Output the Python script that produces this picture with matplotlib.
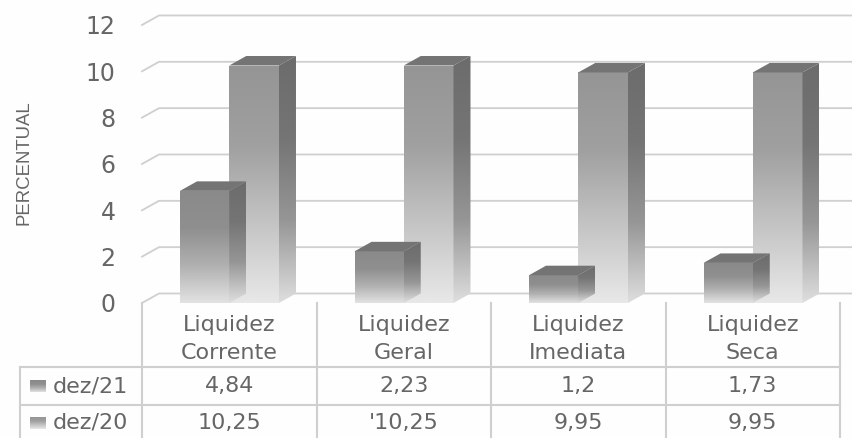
import numpy as np
import matplotlib
matplotlib.use("Agg")
import matplotlib.pyplot as plt
from matplotlib.patches import Polygon
from matplotlib.colors import LinearSegmentedColormap
from matplotlib.transforms import blended_transform_factory

categories = ["Liquidez\nCorrente", "Liquidez\nGeral", "Liquidez\nImediata", "Liquidez\nSeca"]
series_names = ["dez/21", "dez/20"]
dez21 = [4.84, 2.23, 1.2, 1.73]
dez20 = [10.25, 10.25, 9.95, 9.95]
dez21_labels = ["4,84", "2,23", "1,2", "1,73"]
dez20_labels = ["10,25", "'10,25", "9,95", "9,95"]
yticks = [0, 2, 4, 6, 8, 10, 12]

W, H = 852, 438
X0, CAT_W = 142, 174.5
Y0, UNIT = 303, 23.17
TXT = "#666666"
GRID = "#cfcfcf"

fig = plt.figure(figsize=(W / 100, H / 100), dpi=100, facecolor="#fefefe")
ax = fig.add_axes([X0 / W, 0, (W - X0) / W, 1])
ax.set_facecolor("none")
xlim = (0, (W - X0) / CAT_W)
ylim = ((Y0 - H) / UNIT, Y0 / UNIT)
for s in ax.spines.values():
    s.set_visible(False)

DX, DY = 17 / CAT_W, 9.5 / UNIT          # 3-D depth of the plot floor
grad_front = LinearSegmentedColormap.from_list("f", ["#e2e2e2", "#b0b0b0", "#8f8f8f", "#8a8a8a"])
grad_back = LinearSegmentedColormap.from_list("b", ["#e8e8e8", "#c4c4c4", "#a0a0a0", "#959595"])
grad_side = LinearSegmentedColormap.from_list("s", ["#dedede", "#969696", "#757575", "#6c6c6c"])
ramp = np.linspace(0, 1, 128).reshape(-1, 1)


def gradient(x0, x1, top, bottom, cmap, clip, z):
    im = ax.imshow(ramp, cmap=cmap, origin="lower", aspect="auto",
                   extent=(x0, x1, bottom, top), vmin=0, vmax=1, zorder=z,
                   interpolation="bilinear")
    im.set_clip_path(clip)


def bar3d(x, w, v, cmap, z):
    b = ax.bar(x, v, w, align="edge", color="none", linewidth=0, zorder=z)[0]
    gradient(x, x + w, v, 0, cmap, b, z)
    side = Polygon([(x + w, 0), (x + w + DX, DY), (x + w + DX, v + DY), (x + w, v)],
                   closed=True, fc="none", ec="none", zorder=z)
    ax.add_patch(side)
    gradient(x + w, x + w + DX, v + DY, 0, grad_side, side, z)
    ax.add_patch(Polygon([(x, v), (x + DX, v + DY), (x + w + DX, v + DY), (x + w, v)],
                         closed=True, fc="#747474", ec="none", zorder=z))


# back wall grid and floor diagonals
for t in yticks:
    ax.plot([0, DX, xlim[1]], [t, t + DY, t + DY], color=GRID, lw=1.3, zorder=1, clip_on=False)

BAR_W = 0.285
for i in range(4):
    bar3d(i + 0.500, BAR_W, dez20[i], grad_back, 3)
    bar3d(i + 0.218, BAR_W - 0.003, dez21[i], grad_front, 4)

ax.set_xlim(*xlim)
ax.set_ylim(*ylim)
ax.set_xticks([])
ax.set_yticks(yticks)
ax.tick_params(axis="y", length=0, pad=19, labelsize=17, labelcolor=TXT)

# data table below the plot
tb = blended_transform_factory(ax.transData, fig.transFigure)
fy = lambda py: 1 - py / H
fx = lambda px: (px - X0) / CAT_W
ROW_TOP, ROW_MID, ROW_END = 367, 405, H
TBL_LEFT = 20
for py in (ROW_TOP, ROW_MID):
    ax.plot([fx(TBL_LEFT), 4], [fy(py)] * 2, transform=tb, color=GRID, lw=1.5, clip_on=False, zorder=2)
ax.plot([fx(TBL_LEFT)] * 2, [fy(ROW_TOP), fy(ROW_END)], transform=tb, color=GRID, lw=1.5, clip_on=False)
for i in range(5):
    ax.plot([i, i], [fy(Y0), fy(ROW_END)], transform=tb, color=GRID, lw=1.5, clip_on=False, zorder=2)

for i, c in enumerate(categories):
    ax.text(i + 0.5, fy(339), c, transform=tb, ha="center", va="center",
            fontsize=16, color=TXT, linespacing=1.45)
    ax.text(i + 0.5, fy(386), dez21_labels[i], transform=tb, ha="center", va="center",
            fontsize=16, color=TXT)
    ax.text(i + 0.5, fy(423), dez20_labels[i], transform=tb, ha="center", va="center",
            fontsize=16, color=TXT)

# series keys in the table
for name, py, cmap in zip(series_names, (386, 423), (grad_front, grad_back)):
    ax.text(fx(53), fy(py), name, transform=tb, ha="left", va="center", fontsize=16, color=TXT)
    sw = fig.add_axes([30 / W, 1 - (py + 6) / H, 16 / W, 12 / H])
    sw.imshow(ramp, cmap=cmap, origin="lower", aspect="auto", vmin=0, vmax=1)
    sw.axis("off")

fig.text(24 / W, 1 - 163 / H, "PERCENTUAL", rotation=90, ha="center", va="center",
         fontsize=13.4, color=TXT, family="Liberation Sans")

fig.savefig("out.png", dpi=100, facecolor=fig.get_facecolor())
